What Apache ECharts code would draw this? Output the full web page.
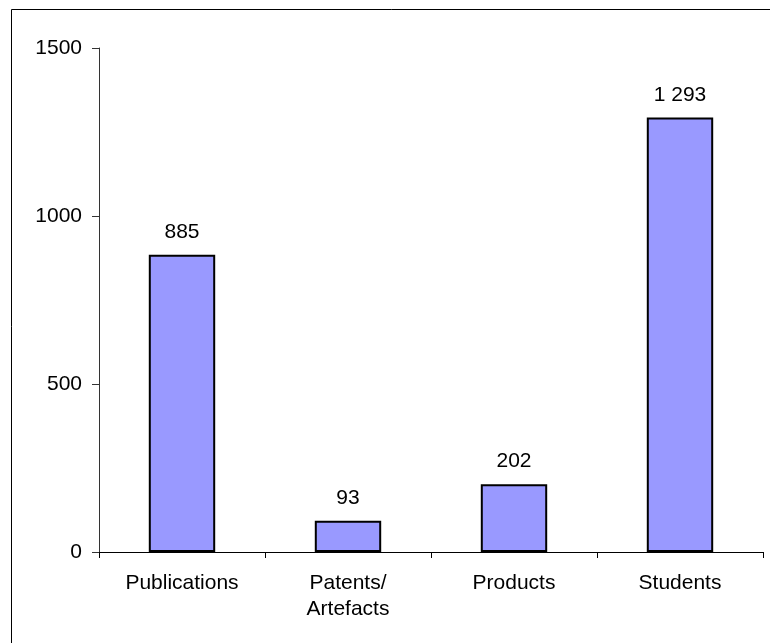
<!DOCTYPE html>
<html>
<head>
<meta charset="utf-8">
<script src="https://cdn.jsdelivr.net/npm/echarts@6/dist/echarts.min.js"></script>
<style>html,body{margin:0;padding:0;background:#fff;}#c{width:770px;height:643px;}</style>
</head>
<body>
<div id="c"></div>
<script>
const categories = ['Publications', 'Patents/\nArtefacts', 'Products', 'Students'];
const values = [885, 93, 202, 1293];
const yTicks = [0, 500, 1000, 1500];

const FONT = '"Liberation Sans", Arial, sans-serif';
function fmt(v) {
  return String(v).replace(/\B(?=(\d{3})+(?!\d))/g, ' ');
}

const chart = echarts.init(document.getElementById('c'), null, {renderer: 'canvas'});
chart.setOption({
  animation: false,
  backgroundColor: '#ffffff',
  textStyle: {fontFamily: FONT},
  graphic: [{
    type: 'rect',
    shape: {x: 11.5, y: 9.5, width: 900, height: 800},
    style: {fill: 'none', stroke: '#000', lineWidth: 1},
    z: 0
  }],
  grid: {left: 99, right: 7, top: 48, bottom: 91, containLabel: false},
  xAxis: {
    type: 'category',
    data: categories,
    boundaryGap: true,
    axisLine: {lineStyle: {color: '#000', width: 1}},
    axisTick: {show: true, alignWithLabel: false, length: 6, lineStyle: {color: '#000'}},
    axisLabel: {color: '#000', fontSize: 21, fontFamily: FONT, margin: 18, lineHeight: 26, interval: 0}
  },
  yAxis: {
    type: 'value',
    min: yTicks[0],
    max: yTicks[yTicks.length - 1],
    interval: yTicks[1] - yTicks[0],
    axisLine: {show: true, lineStyle: {color: '#333', width: 1}},
    axisTick: {show: true, length: 7, lineStyle: {color: '#333'}},
    splitLine: {show: false},
    axisLabel: {color: '#000', fontSize: 21, fontFamily: FONT, margin: 17, formatter: v => String(v)}
  },
  series: [{
    type: 'bar',
    data: values,
    barWidth: '40%',
    itemStyle: {color: '#9999FF', borderColor: '#000', borderWidth: 2},
    label: {
      show: true,
      position: 'top',
      distance: 12,
      color: '#000',
      fontSize: 21,
      fontFamily: FONT,
      formatter: p => fmt(p.value)
    }
  }]
});
</script>
</body>
</html>
